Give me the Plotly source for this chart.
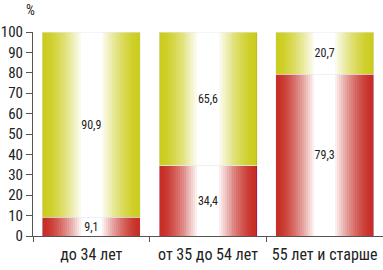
import plotly.graph_objects as go

categories = ["до 34 лет", "от 35 до 54 лет", "55 лет и старше"]
bottom_values = [9.1, 34.4, 79.3]   # red segment
top_values = [90.9, 65.6, 20.7]     # yellow segment
bottom_labels = ["9,1", "34,4", "79,3"]
top_labels = ["90,9", "65,6", "20,7"]
y_ticks = [0, 10, 20, 30, 40, 50, 60, 70, 80, 90, 100]

RED_EDGE = (198, 46, 38)
RED_LINE = (190, 16, 58)
YEL_EDGE = (204, 204, 30)
YEL_LINE = (192, 192, 16)
BAR_W = 0.84
STEPS = 20

font_fam = "Liberation Sans Narrow, Roboto Condensed, Arial Narrow, Liberation Sans, sans-serif"

def mix(c, t):
    return "rgb(%d,%d,%d)" % tuple(round(v + (255 - v) * t) for v in c)

fig = go.Figure()

def add_gradient(values, base, edge, line):
    fig.add_trace(go.Bar(x=categories, y=values, base=base, width=BAR_W,
                         marker=dict(color="rgb(%d,%d,%d)" % line, line=dict(width=0)),
                         hoverinfo="skip", showlegend=False))
    for i in range(STEPS):
        t = (i / (STEPS - 1)) ** 1.5
        w = (BAR_W - 0.014) * (1 - 0.82 * i / STEPS)
        fig.add_trace(go.Bar(x=categories, y=values, base=base, width=w,
                             marker=dict(color=mix(edge, min(1.0, t)), line=dict(width=0)),
                             hoverinfo="skip", showlegend=False))

# yellow drawn first across the full stack, red drawn over it
totals = [b + t for b, t in zip(bottom_values, top_values)]
add_gradient(totals, [0, 0, 0], YEL_EDGE, YEL_LINE)
add_gradient(bottom_values, [0, 0, 0], RED_EDGE, RED_LINE)

txt_font = dict(size=12, color="#222", family=font_fam)
fig.add_trace(go.Bar(x=categories, y=bottom_values, base=[0, 0, 0], width=BAR_W,
                     text=bottom_labels, textposition="inside", insidetextanchor="middle",
                     textfont=txt_font, marker=dict(color="rgba(0,0,0,0)"),
                     hoverinfo="skip", showlegend=False, constraintext="none"))
fig.add_trace(go.Bar(x=categories, y=top_values, base=bottom_values, width=BAR_W,
                     text=top_labels, textposition="inside", insidetextanchor="middle",
                     textfont=txt_font, marker=dict(color="rgba(0,0,0,0)"),
                     hoverinfo="skip", showlegend=False, constraintext="none"))

fig.update_layout(
    width=383, height=270,
    margin=dict(l=33, r=0, t=32, b=34, autoexpand=False),
    barmode="overlay",
    paper_bgcolor="white", plot_bgcolor="white",
    font=dict(family=font_fam, size=14, color="#222"),
    xaxis=dict(type="category", range=[-0.5, 2.5], tickson="boundaries",
               ticks="outside", ticklen=5, tickcolor="#555", showline=True,
               linecolor="#555", linewidth=1, showgrid=False, automargin=False,
               ticklabelstandoff=4,
               tickfont=dict(size=16, color="#222")),
    yaxis=dict(range=[0, 100], tickvals=y_ticks, ticks="outside", ticklen=6,
               tickcolor="#555", showline=True, linecolor="#555", linewidth=1,
               showgrid=False, zeroline=False, automargin=False,
               tickfont=dict(size=15, color="#222")),
    annotations=[dict(text="%", xref="paper", yref="paper", x=-0.006, y=1.108,
                      xanchor="center", yanchor="middle", showarrow=False,
                      font=dict(size=14, color="#222"))],
)

post = ("var s=document.createElement('style');"
        "s.textContent='body{margin:0} .bars path{shape-rendering:crispEdges}';"
        "document.head.appendChild(s);")
fig.write_html("out.html", post_script=post, config={"displayModeBar": False})
